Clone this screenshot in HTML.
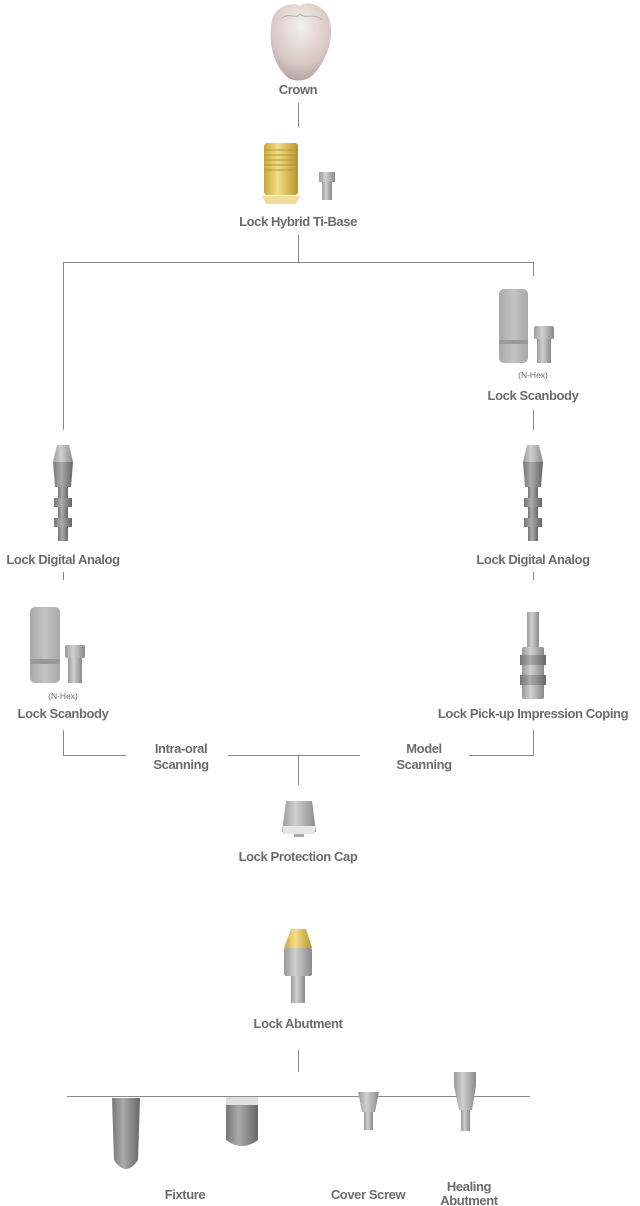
<!DOCTYPE html>
<html><head><meta charset="utf-8"><style>
html,body{margin:0;padding:0;background:#fff;width:640px;height:1206px;overflow:hidden}
svg{display:block}
text{font-family:"Liberation Sans",sans-serif;font-weight:bold;fill:#6b6b6b;font-size:13px;text-anchor:middle;letter-spacing:-0.4px}
.s{font-weight:normal;font-size:8.5px;letter-spacing:0}
</style></head><body>
<svg width="640" height="1206" viewBox="0 0 640 1206">
<defs>
<linearGradient id="g" x1="0" x2="1"><stop offset="0" stop-color="#9a9a9a"/><stop offset=".4" stop-color="#d0d0d0"/><stop offset="1" stop-color="#8a8a8a"/></linearGradient>
<linearGradient id="gd" x1="0" x2="1"><stop offset="0" stop-color="#777"/><stop offset=".4" stop-color="#aaa"/><stop offset="1" stop-color="#666"/></linearGradient>
<linearGradient id="au" x1="0" x2="1"><stop offset="0" stop-color="#c9a73a"/><stop offset=".4" stop-color="#f3de86"/><stop offset="1" stop-color="#b8952c"/></linearGradient>
<radialGradient id="cr" cx=".5" cy=".3" r=".7"><stop offset="0" stop-color="#f4efea"/><stop offset=".7" stop-color="#d8c8c4"/><stop offset="1" stop-color="#b8a3a3"/></radialGradient>
<linearGradient id="sb" x1="0" x2="1"><stop offset="0" stop-color="#aaa"/><stop offset=".5" stop-color="#c4c4c4"/><stop offset="1" stop-color="#a8a8a8"/></linearGradient>
</defs>
<g stroke="#888" stroke-width="1" fill="none">
<path d="M298.5 103V127M298.5 235V262.5M63.5 430V262.5H533.5V276M533.5 410V430M63.5 572V580M533.5 572V580M63.5 730V755.5H126M228 755.5H360M469 755.5H533.5V730M298.5 755.5V785M298.5 1050V1072M67 1096.5H530"/>
</g>
<!-- crown -->
<path d="M272 20C276 4 296 2 300 6C306 0 326 4 330 22C334 40 326 62 312 76C304 82 292 82 286 76C272 62 268 40 272 20Z" fill="url(#cr)"/>
<path d="M282 18C290 12 296 20 300 14C306 20 314 12 322 20" stroke="#bcb0a8" fill="none"/>
<text x="298" y="94">Crown</text>
<!-- ti-base -->
<rect x="264" y="143" width="34" height="52" rx="3" fill="url(#au)"/>
<path d="M262 196H300L296 204H266Z" fill="#f0dd98"/>
<g stroke="#b59430"><path d="M264 150H298M264 155H298M264 160H298M264 165H298M264 170H298"/></g>
<rect x="319" y="172" width="16" height="10" fill="url(#g)"/><rect x="322" y="182" width="10" height="18" fill="url(#g)"/>
<text x="298" y="226">Lock Hybrid Ti-Base</text>
<!-- right scanbody -->
<rect x="499" y="289" width="29" height="74" rx="5" fill="url(#sb)"/><rect x="499" y="340" width="29" height="4" fill="#999"/>
<rect x="534" y="326" width="20" height="13" rx="2" fill="url(#g)"/><rect x="537" y="339" width="14" height="24" fill="url(#g)"/>
<text class="s" x="533" y="378">(N-Hex)</text>
<text x="533" y="400">Lock Scanbody</text>
<!-- analogs -->
<g id="an">
<path d="M57 445H69L73 462H53Z" fill="url(#g)"/>
<path d="M53 462H73L71 487H55Z" fill="url(#gd)"/>
<rect x="58" y="487" width="10" height="54" fill="url(#gd)"/>
<rect x="54" y="498" width="18" height="9" fill="url(#gd)"/><rect x="54" y="518" width="18" height="9" fill="url(#gd)"/>
</g>
<use href="#an" x="470"/>
<text x="63" y="564">Lock Digital Analog</text>
<text x="533" y="564">Lock Digital Analog</text>
<!-- left scanbody -->
<rect x="30" y="607" width="30" height="76" rx="5" fill="url(#sb)"/><rect x="30" y="659" width="30" height="5" fill="#999"/>
<rect x="65" y="645" width="20" height="13" rx="2" fill="url(#g)"/><rect x="68" y="658" width="14" height="25" fill="url(#g)"/>
<text class="s" x="63" y="699">(N-Hex)</text>
<text x="63" y="718">Lock Scanbody</text>
<!-- coping -->
<rect x="527" y="612" width="12" height="35" fill="url(#g)"/>
<rect x="522" y="647" width="22" height="52" rx="2" fill="url(#g)"/>
<rect x="520" y="655" width="26" height="10" fill="url(#gd)"/><rect x="520" y="675" width="26" height="10" fill="url(#gd)"/>
<text x="533" y="718">Lock Pick-up Impression Coping</text>
<text x="181" y="753">Intra-oral</text><text x="181" y="769">Scanning</text>
<text x="424" y="753">Model</text><text x="424" y="769">Scanning</text>
<!-- cap -->
<path d="M286 801H312L316 832H282Z" fill="url(#g)"/><rect x="283" y="826" width="32" height="8" fill="#e6e6e6"/><rect x="294" y="834" width="10" height="3" fill="#aaa"/>
<text x="298" y="861">Lock Protection Cap</text>
<!-- abutment -->
<path d="M291 929H306L312 948H284Z" fill="url(#au)"/>
<rect x="284" y="948" width="28" height="28" rx="2" fill="url(#g)"/>
<rect x="291" y="976" width="14" height="27" fill="url(#g)"/>
<text x="298" y="1028">Lock Abutment</text>
<!-- bottom -->
<path d="M112 1098H140L138 1160Q126 1178 114 1160Z" fill="url(#gd)"/>
<path d="M226 1098H258V1140Q242 1152 226 1140Z" fill="url(#gd)"/><rect x="226" y="1097" width="32" height="8" fill="#e0e0e0"/>
<path d="M358 1092H379L375 1112H362Z" fill="url(#g)"/><rect x="364" y="1112" width="9" height="18" fill="url(#g)"/>
<path d="M454 1072H476V1086L472 1110H459L454 1086Z" fill="url(#g)"/><rect x="461" y="1110" width="9" height="21" fill="url(#g)"/>
<text x="185" y="1199">Fixture</text>
<text x="368" y="1199">Cover Screw</text>
<text x="469" y="1191">Healing</text><text x="469" y="1206" dy="-1">Abutment</text>
</svg>
</body></html>
